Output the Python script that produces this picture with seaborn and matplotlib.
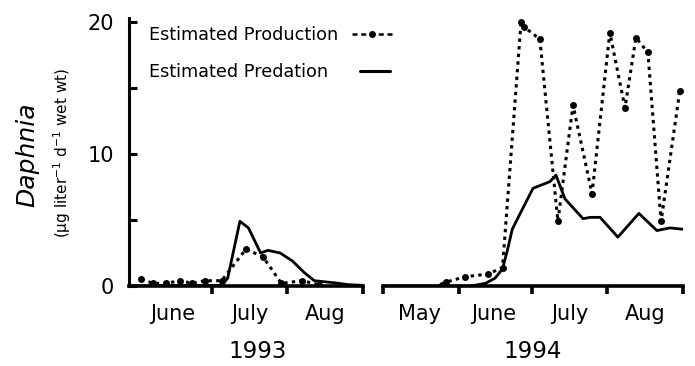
import matplotlib
matplotlib.use("Agg")
import matplotlib.pyplot as plt
import seaborn as sns
import pandas as pd
from matplotlib.lines import Line2D

# ---- data (x = day of year) ----
prod93_day = [153, 158, 163, 169, 174, 179, 186, 196, 203, 210.5, 219, 226]
prod93_val = [0.5, 0.2, 0.2, 0.4, 0.2, 0.4, 0.4, 2.8, 2.2, 0.2, 0.4, 0.1]
pred93_day = [148, 186, 188.5, 193.5, 197, 202, 205, 210, 215, 220, 224, 232, 238, 244]
pred93_val = [0.0, 0.05, 0.6, 4.9, 4.4, 2.5, 2.7, 2.5, 1.9, 1.0, 0.4, 0.25, 0.1, 0.05]

prod94_day = [145, 147, 154.5, 164, 170, 177.6, 179, 185.3, 192.7, 198.9, 206.7,
              214, 220.2, 224.7, 229.6, 235, 242.7]
prod94_val = [0.1, 0.3, 0.7, 0.9, 1.4, 20.0, 19.6, 18.7, 4.9, 13.7, 7.0,
              19.2, 13.5, 18.8, 17.7, 4.9, 14.8]
pred94_day = [121, 157, 163, 167, 170, 172, 174, 177, 182.5, 186.6, 189.4, 191.9,
              195.6, 203, 206, 210, 217.3, 225.9, 233.3, 238.6, 244]
pred94_val = [0, 0, 0.2, 0.6, 1.3, 2.7, 4.3, 5.4, 7.4, 7.7, 7.9, 8.4,
              6.6, 5.1, 5.2, 5.2, 3.7, 5.5, 4.2, 4.4, 4.3]

bounds93 = [182, 213, 244]
bounds94 = [121, 152, 182, 213, 244]
months93 = ["June", "July", "Aug"]
centers93 = [166, 197.5, 228.5]
months94 = ["May", "June", "July", "Aug"]
centers94 = [136, 166.5, 197.5, 228.5]
years = ["1993", "1994"]
yticks_major = [0, 10, 20]
yticks_minor = [5, 15]
series_names = ["Estimated Production", "Estimated Predation"]

sns.set_style("ticks")
plt.rcParams["font.family"] = ["DejaVu Sans"]
for k in ["text.color", "axes.labelcolor", "xtick.color", "ytick.color", "axes.edgecolor"]:
    plt.rcParams[k] = "black"

W, H = 695, 366
fig = plt.figure(figsize=(W / 100, H / 100), dpi=100)
ax1 = fig.add_axes([129 / W, 80 / H, 234 / W, 268 / H])
ax2 = fig.add_axes([383 / W, 80 / H, 300 / W, 268 / H])

prod_kw = dict(color="black", lw=2.2, marker="o", markersize=5,
               markeredgewidth=0, dashes=(1.1, 1.4))
pred_kw = dict(color="black", lw=2.0)

for ax, pd_, pv, qd, qv in [(ax1, prod93_day, prod93_val, pred93_day, pred93_val),
                            (ax2, prod94_day, prod94_val, pred94_day, pred94_val)]:
    dfp = pd.DataFrame({"day": pd_, "val": pv})
    dfq = pd.DataFrame({"day": qd, "val": qv})
    sns.lineplot(data=dfq, x="day", y="val", ax=ax, **pred_kw)
    sns.lineplot(data=dfp, x="day", y="val", ax=ax, **prod_kw)
    ax.set_ylim(0, 20.3)
    ax.set_xlabel("")
    ax.set_ylabel("")
    for s in ["top", "right"]:
        ax.spines[s].set_visible(False)
    ax.spines["bottom"].set_linewidth(2.6)
    ax.spines["left"].set_linewidth(2.2)
    ax.patch.set_alpha(0)

ax1.set_xlim(148, 244)
ax2.set_xlim(121, 244)

for ax, b, c, m in [(ax1, bounds93, centers93, months93), (ax2, bounds94, centers94, months94)]:
    ax.set_xticks(b)
    ax.set_xticklabels([])
    ax.set_xticks(c, minor=True)
    ax.set_xticklabels(m, minor=True, fontsize=15)
    ax.tick_params(axis="x", which="major", direction="out", length=5.5, width=2.6)
    ax.tick_params(axis="x", which="minor", length=0, pad=13)

ax1.set_yticks(yticks_major)
ax1.set_yticklabels([str(v) for v in yticks_major], fontsize=15)
ax1.set_yticks(yticks_minor, minor=True)
ax1.tick_params(axis="y", which="both", direction="in", length=6, width=2.2, pad=11)
ax1.tick_params(axis="y", which="major", labelsize=15)

ax2.spines["left"].set_visible(False)
ax2.set_yticks([])

fig.text(258 / W, 1 - 352 / H, years[0], ha="center", va="center", fontsize=16.5)
fig.text(533 / W, 1 - 352 / H, years[1], ha="center", va="center", fontsize=16.5)

fig.text(27 / W, 1 - 155 / H, "Daphnia", rotation=90, ha="center", va="center",
         fontsize=18, style="italic")
fig.text(62 / W, 1 - 153 / H, "(µg liter$^{-1}$ d$^{-1}$ wet wt)", rotation=90,
         ha="center", va="center", fontsize=11)

# legend: labels left-aligned, sample lines to their right
label_y = [35, 72]
handle_x = [352, 360]
handle_len = [2.3, 1.75]
handles = [Line2D([], [], color="black", lw=1.8, dashes=(2.0, 1.5), marker="o",
                  markersize=5, markeredgewidth=0),
           Line2D([], [], color="black", lw=2.2)]
for name, y, hx, hl, h in zip(series_names, label_y, handle_x, handle_len, handles):
    fig.text(149 / W, 1 - y / H, name, ha="left", va="center", fontsize=12.7)
    fig.legend([h], [""], loc="center left", bbox_to_anchor=(hx / W, 1 - y / H),
               frameon=False, fontsize=12.5, handlelength=hl, handletextpad=0,
               borderpad=0, borderaxespad=0)

fig.savefig("out.png", dpi=100)
